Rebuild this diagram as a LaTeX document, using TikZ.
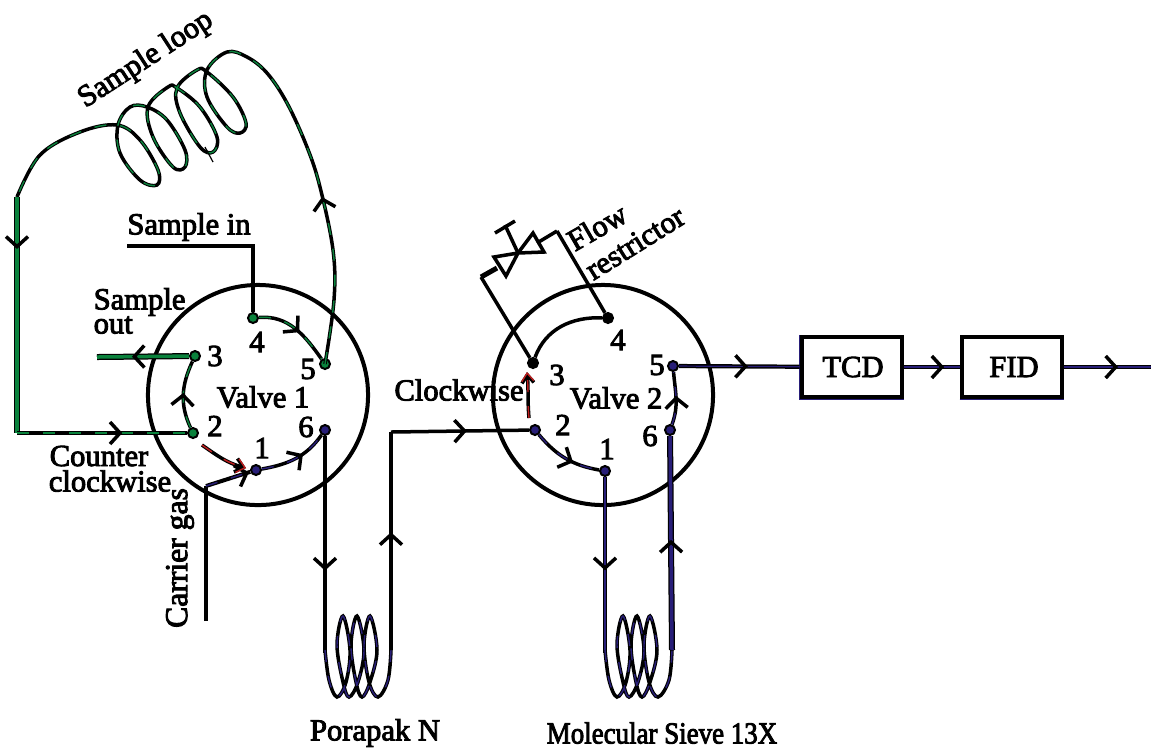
\documentclass[tikz,border=0pt]{standalone}
\usepackage{fontspec}
\newfontfamily\lblfont[FakeBold=3]{Liberation Serif}
\usepackage{tikz}
\usetikzlibrary{arrows.meta,decorations.markings}
\definecolor{wiregreen}{RGB}{10,130,60}
\definecolor{wireblue}{RGB}{40,30,120}
\definecolor{wirered}{RGB}{190,30,30}

\begin{document}
\begin{tikzpicture}[
        x=0.01cm, y=-0.01cm,
        >={Straight Barb[length=0.1cm,width=0.22cm]},
        every node/.style={font=\lblfont\fontsize{8.7}{9}\selectfont, inner sep=0pt},
        wire/.style={draw=black, line width=0.035cm},
        tube/.style={wire, postaction={draw=#1, line width=0.014cm, dash pattern=on 0.12cm off 0.14cm}},
        fat/.style={draw=black, line width=#1, postaction={draw=wireblue, line width=#1-0.025cm}},
        fatgreen/.style={draw=black, line width=0.06cm, postaction={draw=wiregreen, line width=0.035cm}},
        core/.style={draw=black, line width=0.042cm, postaction={draw=wireblue, line width=0.012cm}},
        port/.style={circle, fill=#1, draw=black, line width=0.02cm, minimum size=0.1cm},
        port/.default=black,
        valve/.style={circle, draw=black, line width=0.04cm, minimum size=2.2cm},
        detector/.style={draw=black, line width=0.045cm, minimum width=1cm, minimum height=0.6cm},
        flow/.style={postaction={decorate, decoration={markings, mark=at position #1 with {\arrow[line width=0.035cm, black]{>}}}}}
      ]
      \useasboundingbox (0,0) rectangle (1151,747);

      % valves
      \node[valve] (valve1) at (258,395) {};
      \node[valve] (valve2) at (603,395) {};
      \node (name1) at (263,397) {Valve 1};
      \node (name2) at (616,398) {Valve 2};

      % ports of valve 1
      \node[port=wireblue]  (a1) at (256,470) {};
      \node[port=wiregreen] (a2) at (193,433) {};
      \node[port=wiregreen] (a3) at (195,356) {};
      \node[port=wiregreen] (a4) at (253,318) {};
      \node[port=wiregreen] (a5) at (325,364) {};
      \node[port=wireblue]  (a6) at (325,430) {};
      \node (na1) at (262,448) {1};
      \node (na2) at (215,426) {2};
      \node (na3) at (215,356) {3};
      \node (na4) at (257,342) {4};
      \node (na5) at (308,369) {5};
      \node (na6) at (306,427) {6};

      % ports of valve 2
      \node[port=wireblue] (b1) at (605,471) {};
      \node[port=wireblue] (b2) at (535,430) {};
      \node[port] (b3) at (533,363) {};
      \node[port] (b4) at (608,318) {};
      \node[port=wireblue] (b5) at (673,366) {};
      \node[port=wireblue] (b6) at (670,430) {};
      \node (nb1) at (607,449) {1};
      \node (nb2) at (563,425) {2};
      \node (nb3) at (557,375) {3};
      \node (nb4) at (618,340) {4};
      \node (nb5) at (657,365) {5};
      \node (nb6) at (650,436) {6};

      % detectors
      \node[detector] (tcd) at (852,367) {};
      \node (tcdname) at (853,367) {TCD};
      \node[detector] (fid) at (1012,367) {};
      \node (fidname) at (1014,367) {FID};
      \draw[wireblue, line width=0.012cm] (tcd.north west) -- (tcd.south west) -- (tcd.south east);
      \draw[wireblue, line width=0.012cm] (fid.south west) -- (fid.south east);

      % free ends and corners
      \coordinate (insample) at (127,246);
      \coordinate (incorner) at (253,246);
      \coordinate (outsample) at (97,357);
      \coordinate (loopend) at (17,197);
      \coordinate (loopcorner) at (17,433);
      \coordinate (looptail) at (326,215);
      \coordinate (loophead) at (322,197);
      \coordinate (carrier) at (206,621);
      \coordinate (carriertop) at (206,486);
      \coordinate (columnup) at (391,432);
      \coordinate (vent) at (1151,367);

      % sample loop
      \draw[tube=wiregreen] plot[smooth, tension=0.6] coordinates {(325,364) (334,300) (333,250) (320,187) (307,147) (287,103) (267,73) (247,57) (227,52) (207,70) (207,97) (227,127) (240,133) (246,123) (233,97) (207,72) (197,70) (177,88) (180,113) (200,147) (213,152) (217,137) (200,107) (177,88) (168,87) (148,107) (153,137) (173,167) (185,167) (185,150) (167,120) (147,107) (130,107) (118,125) (120,153) (140,180) (157,185) (158,170) (140,140) (117,125) (80,132) (40,155) (17,197)};
      \draw[line width=0.012cm] (205,147) -- (213,162);
      \path[flow=1] (looptail) -- (loophead);
      \draw[fatgreen, flow=0.22] (loopend) -- (loopcorner);
      \draw[tube=wiregreen, flow=0.62] (loopcorner) -- (a2);

      \draw[wire] (insample) -- (incorner) -- (a4);
      \draw[tube=wiregreen, flow=0.56] (a4) to[out=5, in=125] (a5);
      \draw[tube=wiregreen, flow=0.52] (a2) to[out=115, in=-115] (a3);
      \draw[fatgreen, flow=0.62] (a3) -- (outsample);

      % carrier gas
      \draw[wire] (carrier) -- (carriertop);
      \draw[tube=wireblue, line width=0.04cm, flow=0.97] (carriertop) -- (a1);
      \draw[tube=wireblue, flow=0.62] (a1) to[out=10, in=-125] (a6);

      % column 1
      \draw[wire, flow=0.62] (a6) -- (325,653);
      \draw[wire, flow=0.54] (391,650) -- (columnup);
      \draw[wire, flow=0.55] (columnup) -- (b2);
      \draw[tube=wireblue] plot[smooth, tension=0.6] coordinates {(325,650) (329,680) (337,697) (346,682) (350,650) (343,616) (337,645) (343,682) (349,697) (358,682) (364,650) (357,616) (351,645) (356,682) (362,697) (370,682) (377,650) (370,616) (364,645) (369,682) (378,697) (388,680) (391,650)};

      % column 2
      \draw[tube=wireblue, flow=0.62] (b2) to[out=-50, in=170] (b1);
      \draw[fat=0.045cm, flow=0.53] (b1) -- (605,653);
      \draw[fat=0.06cm, flow=0.515] (672,650) -- (b6);
      \draw[tube=wireblue] plot[smooth, tension=0.6] coordinates {(605,650) (609,680) (617,697) (626,682) (630,650) (623,616) (617,645) (623,682) (629,697) (638,682) (644,650) (637,616) (631,645) (636,682) (642,697) (650,682) (657,650) (650,616) (644,645) (649,682) (658,697) (669,680) (672,650)};
      \draw[tube=wireblue, flow=0.55] (b6) to[out=70, in=-85] (b5);

      % flow restrictor
      \coordinate (rleft) at (481,277);
      \coordinate (rright) at (557,231);
      \coordinate (rmid) at (518,253);
      \draw[wire] (b3) -- (rleft);
      \draw[wire, line width=0.05cm] (rleft) -- (497,268);
      \draw[wire] (rright) -- (537,243);
      \draw[wire] (rright) -- (b4);
      \draw[wire, line join=miter] (rmid) -- (494,257) -- (506,276) -- cycle;
      \draw[wire, line join=miter] (rmid) -- (533,233) -- (544,252) -- cycle;
      \draw[wire] (rmid) -- (505,225);
      \draw[wire] (495,233) -- (515,221);
      \draw[wire] (b3) to[out=70, in=178] (b4);

      % detector line
      \draw[core, flow=0.57] (b5) -- (tcd);
      \draw[core, flow=0.72] (tcd) -- (fid);
      \draw[core, flow=0.62] (fid) -- (vent);

      % direction of rotation
      \draw[tube=wirered, -{Straight Barb[length=0.08cm,width=0.14cm]}] (202,445) to[out=-35, in=165] (246,468);
      \draw[tube=wirered, -{Straight Barb[length=0.08cm,width=0.12cm]}] (529,418) to[out=95, in=-85] (527,372);

      % labels
      \node[rotate=33] (looplabel) at (146,60) {Sample loop};
      \node (inlabel) at (189,227) {Sample in};
      \node[anchor=west] (outlabel1) at (93,302) {Sample};
      \node[anchor=west] (outlabel2) at (93,325) {out};
      \node (ccw1) at (99,456) {Counter};
      \node (ccw2) at (110,481) {clockwise};
      \node[rotate=90, font=\lblfont\fontsize{9}{9}\selectfont] (carrierlabel) at (180,558) {Carrier gas};
      \node (cwlabel) at (459,390) {Clockwise};
      \node[rotate=30] (flowlabel) at (597,227) {Flow};
      \node[rotate=32] (restlabel) at (635,243) {restrictor};
      \node (column1) at (375,733) {Porapak N};
      \node (column2) at (662,733) {\scalebox{0.88}[1]{Molecular Sieve 13X}};
    \end{tikzpicture}
\end{document}
